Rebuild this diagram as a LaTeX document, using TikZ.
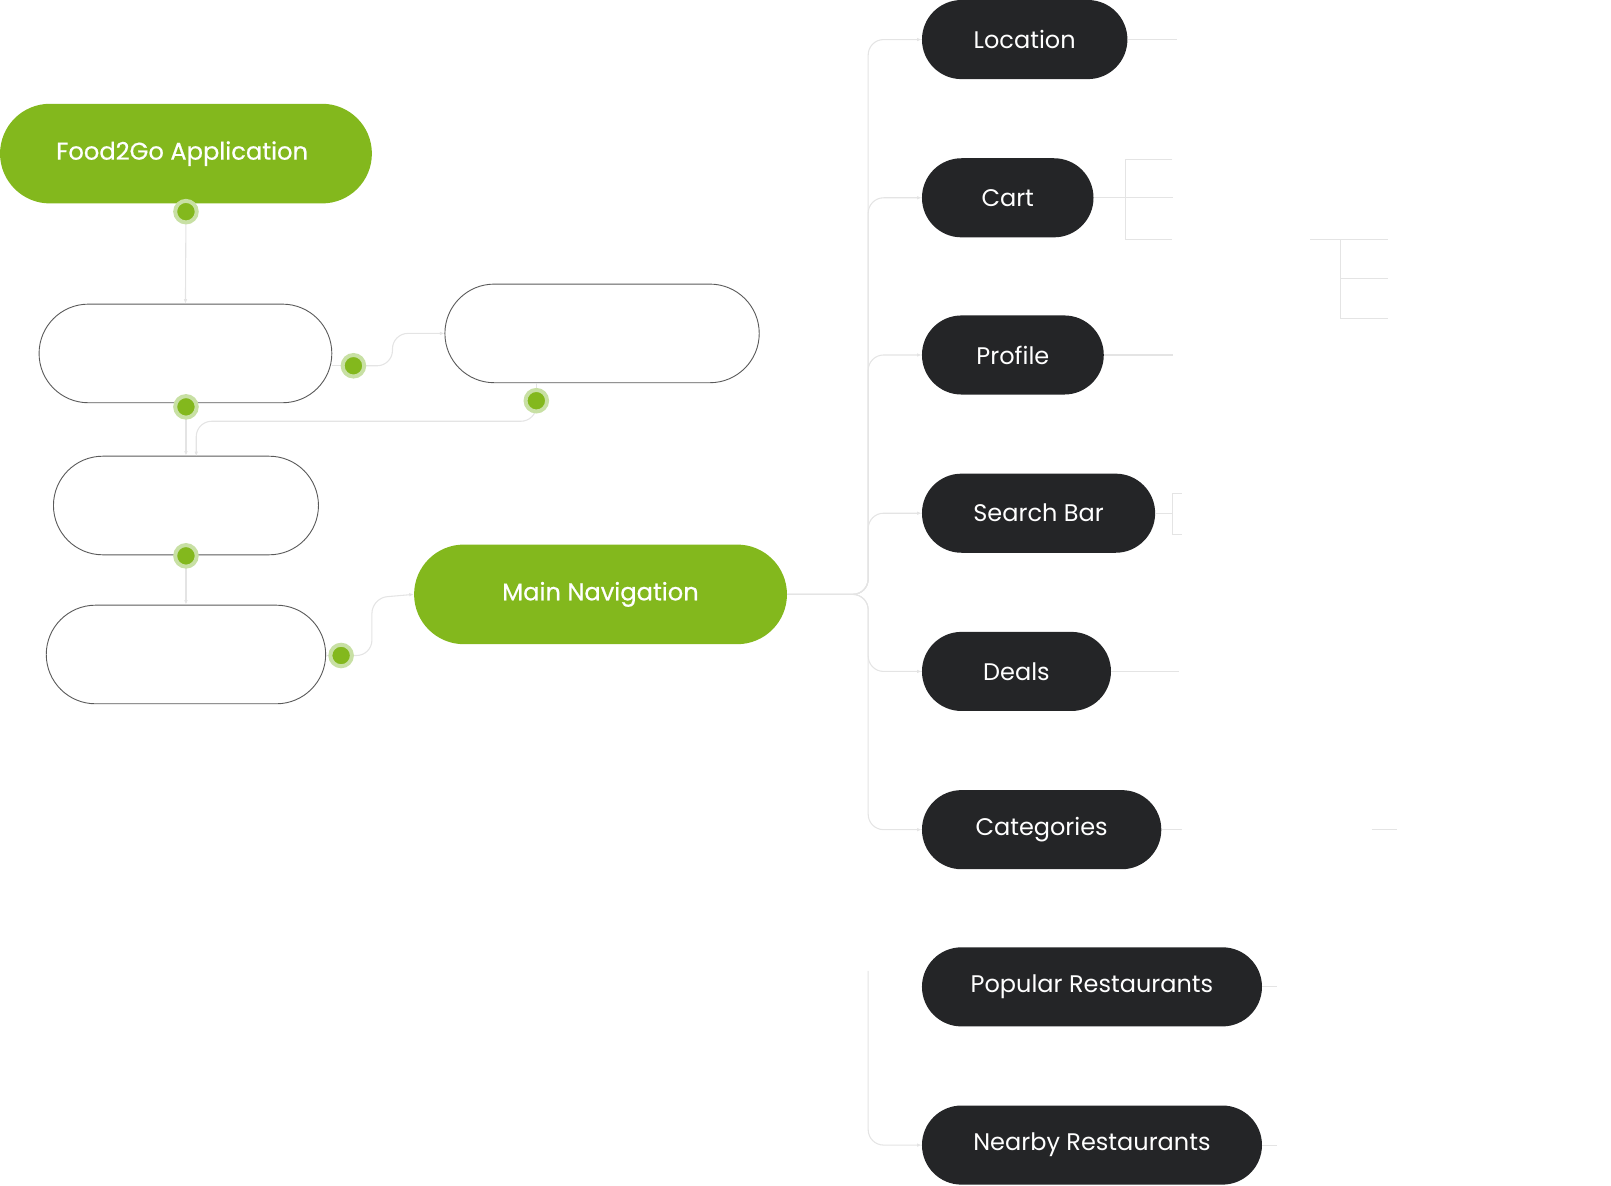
\documentclass[tikz,border=0pt]{standalone}
\usepackage{fontspec}
\setmainfont{Poppins}
\newfontfamily\heavyfont[FakeBold=0.6]{Poppins}
\usepackage{tikz}
\usetikzlibrary{arrows.meta}

\definecolor{leafgreen}{HTML}{83B81D}
\definecolor{leafhalo}{HTML}{C8E0A4}
\definecolor{inkpill}{HTML}{242527}
\definecolor{wire}{HTML}{E4E4E4}
\definecolor{rim}{HTML}{5A5A5A}

\tikzset{
	greenpill/.style={fill=leafgreen, text=white, rounded corners=0.97cm,
		minimum height=1.94cm, inner sep=0pt, font=\heavyfont\fontsize{13.4}{16}\selectfont},
	blankpill/.style={draw=rim, line width=0.5pt, fill=white, rounded corners=0.96cm,
		minimum height=1.92cm, inner sep=0pt},
	navpill/.style={fill=inkpill, text=white, rounded corners=0.77cm, anchor=west,
		minimum height=1.54cm, inner sep=0pt, font=\fontsize{13.3}{16}\selectfont},
	link/.style={draw=wire, line width=0.6pt, rounded corners=0.3cm},
	linkto/.style={link, -{Latex[length=2.5pt,width=2pt]}},
	knob/.style={circle, fill=leafgreen, draw=leafhalo, line width=2.2pt,
		minimum size=0.42cm, inner sep=0pt},
}

\begin{document}
\begin{tikzpicture}[x=0.02cm, y=-0.02cm]
	\useasboundingbox (0,0) rectangle (1568,1154);

	% left column
	\node[greenpill, minimum width=7.24cm] (app) at (181,149.5) {\hspace*{-0.15cm}Food2Go Application};
	\node[blankpill, minimum width=5.70cm] (boxa) at (180.5,344) {};
	\node[blankpill, minimum width=6.12cm] (boxb) at (586,324.5) {};
	\node[blankpill, minimum width=5.16cm] (boxc) at (181,492) {};
	\node[blankpill, minimum width=5.44cm] (boxd) at (181,637) {};
	\node[greenpill, minimum width=7.26cm] (nav) at (584.5,578.5) {Main Navigation};

	% nav items
	\node[navpill, minimum width=4.00cm] (loc) at (897,38.5) {Location};
	\node[navpill, minimum width=3.34cm] (cart) at (897,192.5) {Cart};
	\node[navpill, minimum width=3.54cm] (prof) at (897,345.5) {Profile};
	\node[navpill, minimum width=4.54cm] (search) at (897,499.5) {Search Bar};
	\node[navpill, minimum width=3.68cm] (deals) at (897,653.5) {Deals};
	\node[navpill, minimum width=4.66cm] (cat) at (897,807.5) {Categories};
	\node[navpill, minimum width=6.62cm] (pop) at (897,960.5) {Popular Restaurants};
	\node[navpill, minimum width=6.62cm] (near) at (897,1114.5) {Nearby Restaurants};

	% connectors on the left
	\coordinate (ka) at (181,206);
	\coordinate (kb) at (344,356);
	\coordinate (kc) at (181,396);
	\coordinate (kd) at (522,390);
	\coordinate (ke) at (181,541);
	\coordinate (kf) at (332,638);
	\draw[linkto] (ka) -- (boxa.north);
	\draw[link] (boxa.east |- kb) -- (kb);
	\draw[linkto] (kb) -- (382,356) -- (382,324.5) -- (boxb.west);
	\draw[linkto] (kc) -- (boxc.north);
	\draw[link] (kd |- boxb.south) -- (kd);
	\draw[linkto] (kd) -- (522,410) -- (191,410) -- (191,444);
	\draw[linkto] (ke) -- (boxd.north);
	\draw[link] (boxd.east |- kf) -- (kf);
	\draw[linkto] (kf) -- (362,638) -- (362,582) -- (nav.west);

	% trunk to the items
	\foreach \item in {loc,cart,prof,search,deals,cat}
		\draw[linkto] (nav.east) -- (845,578.5) |- (\item.west);
	\coordinate (gap) at (845,945);
	\draw[linkto] (gap) |- (near.west);

	% faint stubs on the right
	\draw[link] (loc.east) -- ++(48,0);
	\draw[link] (cart.east) -- ++(77,0);
	\draw[link, rounded corners=0pt] (1141,155) -- (1095,155) -- (1095,233) -- (1141,233);
	\draw[link] (1275,233) -- (1305,233);
	\draw[link, rounded corners=0pt] (1351,233) -- (1305,233) -- (1305,310) -- (1351,310);
	\draw[link] (1305,271) -- (1351,271);
	\draw[link] (prof.east) -- ++(67,0);
	\draw[link] (search.east) -- ++(17,0);
	\draw[link, rounded corners=0pt] (1150,480) -- (1141,480) -- (1141,520) -- (1150,520);
	\draw[link] (deals.east) -- ++(66,0);
	\draw[link] (cat.east) -- ++(20,0);
	\draw[link] (1335,807.5) -- (1360,807.5);
	\draw[link] (pop.east) -- ++(14,0);
	\draw[link] (near.east) -- ++(14,0);

	% green knobs
	\foreach \k in {ka,kb,kc,kd,ke,kf}
		\node[knob] at (\k) {};
\end{tikzpicture}
\end{document}
